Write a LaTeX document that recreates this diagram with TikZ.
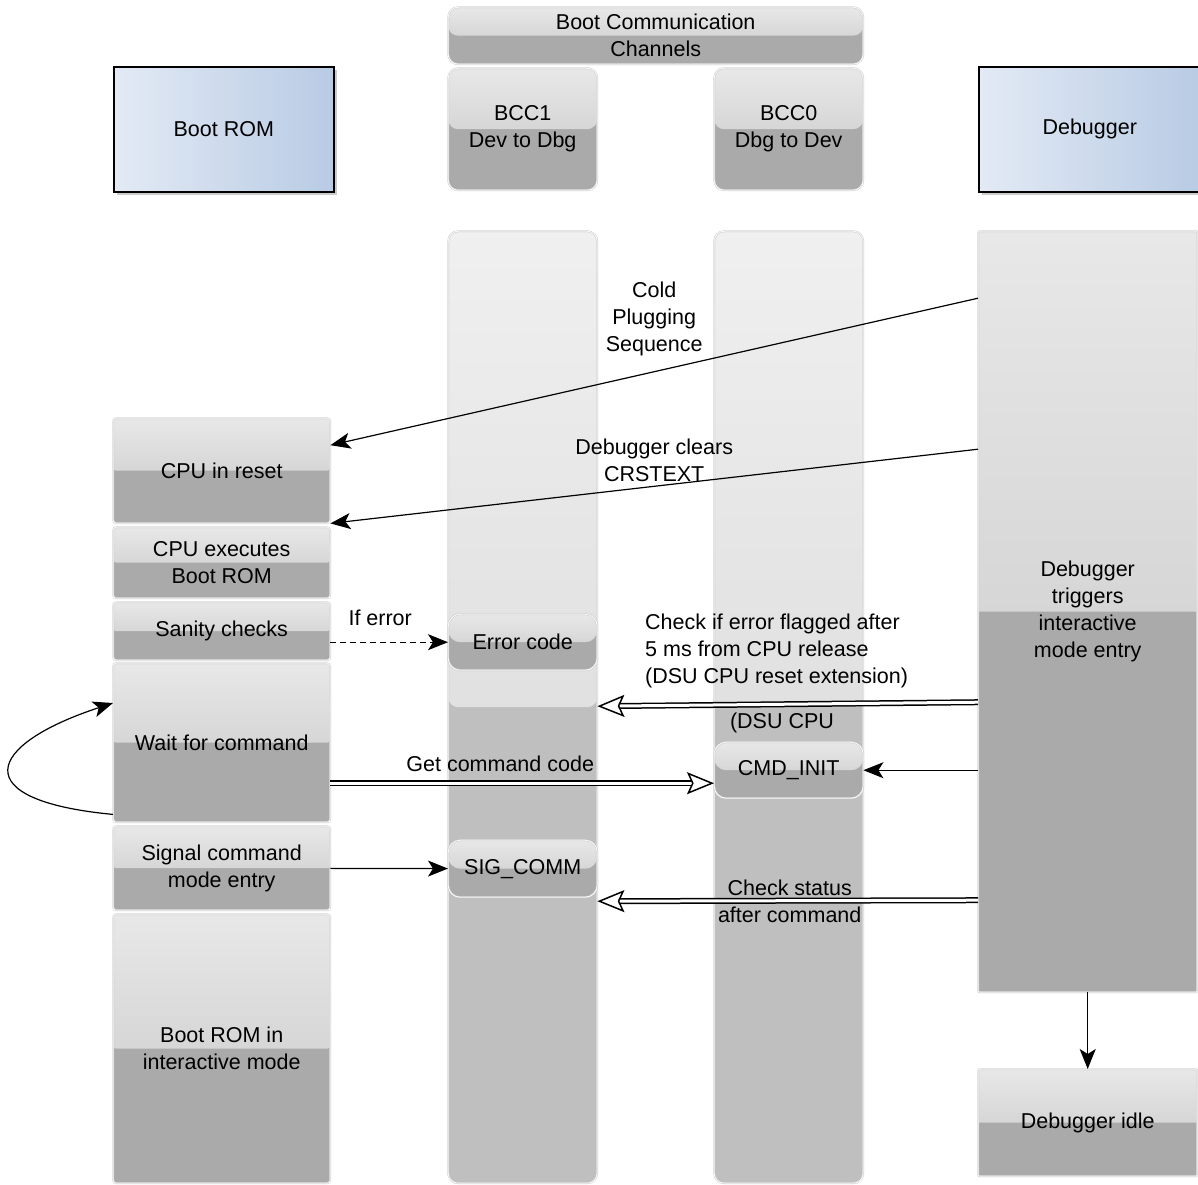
\documentclass[tikz,border=0pt]{standalone}
\usepackage{fontspec}
\setmainfont{Liberation Sans}
\usetikzlibrary{arrows.meta, shadows}
\definecolor{romleft}{HTML}{E3EAF5}
\definecolor{romright}{HTML}{B8CBE4}
\tikzstyle{bluecell} = [rectangle, draw, line width=1.5pt, left color=romleft, right color=romright, text centered, inner sep=0pt, anchor=north west, drop shadow={shadow xshift=3pt, shadow yshift=-3pt, opacity=0.4}]
\tikzstyle{glassbase} = [rectangle, draw=gray!45, double=gray!6, double distance=1pt, align=center, inner sep=0pt, anchor=north west]
\tikzstyle{glasscell} = [glassbase, rounded corners=3pt, fill=gray!67, path picture={\shade[top color=gray!18, bottom color=gray!46] (path picture bounding box.north west) rectangle (path picture bounding box.east);}]
\tikzstyle{chancell} = [glassbase, rounded corners=10pt, fill=gray!50, path picture={\shade[top color=gray!12, bottom color=gray!36] (path picture bounding box.north west) rectangle (path picture bounding box.east);}]
\tikzstyle{lbl} = [align=center, inner sep=0pt]
\tikzstyle{line} = [draw, line width=1.2pt, -{Stealth[length=20pt, width=16pt, inset=5pt]}]
\tikzstyle{dashline} = [line, dashed, dash pattern=on 6pt off 4pt]
\tikzstyle{dline} = [draw, double, double distance=3pt, line width=1.5pt, -{Stealth[open, length=27pt, width=22pt, inset=5pt]}]

\begin{document}
\begin{tikzpicture}[x=1pt, y=-1pt, font=\fontsize{21.5}{27}\selectfont]
    \useasboundingbox (0,0) rectangle (1198,1184);

    % header row
    \node[bluecell, minimum width=220, minimum height=125] (rom) at (113,66) {Boot ROM};
    \node[glasscell, rounded corners=10pt, minimum width=415, minimum height=57] (bcc) at (448,7) {Boot Communication\\Channels};
    \node[glasscell, rounded corners=10pt, minimum width=149, minimum height=122] (bcc1) at (448,68) {BCC1\\Dev to Dbg};
    \node[glasscell, rounded corners=10pt, minimum width=149, minimum height=122] (bcc0) at (714,68) {BCC0\\Dbg to Dev};
    \node[bluecell, minimum width=222, minimum height=125] (dbg) at (978,66) {Debugger};

    % lifelines
    \node[chancell, minimum width=149, minimum height=952] (col1) at (448,231) {};
    \node[chancell, minimum width=149, minimum height=952] (col0) at (714,231) {};
    \node[glasscell, rounded corners=1pt, minimum width=219, minimum height=761] (dbgcol) at (978,231) {Debugger\\triggers\\interactive\\mode entry};
    \node[glasscell, rounded corners=1pt, minimum width=219, minimum height=107] (idle) at (978,1069) {Debugger idle};

    % boot rom steps
    \node[glasscell, minimum width=217, minimum height=105] (rst) at (113,418) {CPU in reset};
    \node[glasscell, minimum width=217, minimum height=71] (exe) at (113,527) {CPU executes\\Boot ROM};
    \node[glasscell, minimum width=217, minimum height=58] (san) at (113,602) {Sanity checks};
    \node[glasscell, minimum width=217, minimum height=159] (wait) at (113,663) {Wait for command};
    \node[glasscell, minimum width=217, minimum height=84] (sig) at (113,826) {Signal command\\mode entry};
    \node[glasscell, minimum width=217, minimum height=269] (inter) at (113,914) {Boot ROM in\\interactive mode};

    % channel codes
    \node[glasscell, rounded corners=12pt, minimum width=149, minimum height=56] (err) at (448,614) {Error code};
    \node[glasscell, rounded corners=12pt, minimum width=149, minimum height=56] (cmd) at (714,742) {CMD\_INIT};
    \node[glasscell, rounded corners=12pt, minimum width=149, minimum height=57] (sigc) at (448,840) {SIG\_COMM};

    % messages
    \path[line] ([yshift=313.5pt]dbgcol.west) -- node[lbl, midway, yshift=53pt] {Cold\\Plugging\\Sequence} ([yshift=25.5pt]rst.east);
    \path[line] ([yshift=162.5pt]dbgcol.west) -- node[lbl, midway, yshift=26pt] {Debugger clears\\CRSTEXT} (rst.south east);
    \path[dashline] (san.east |- err) -- node[lbl, midway, xshift=-9pt, yshift=24pt] {If error} (err);
    \path[dline] ([yshift=-90.5pt]dbgcol.west) -- ([yshift=1pt]col1.east);
    \node[lbl, anchor=west, align=left] (chk) at (645,651) {Check if error flagged after\\5 ms from CPU release\\(DSU CPU reset extension)};
    \node[lbl] (dsu) at (782,723) {(DSU CPU};
    \path[dline] ([yshift=-40.5pt]wait.east) -- node[lbl, midway, xshift=-22pt, yshift=19pt] {Get command code} ([yshift=-13pt]cmd.west);
    \path[line] (dbgcol.west |- cmd.east) -- (cmd.east);
    \path[line] (sig) -- (sigc);
    \path[dline] ([yshift=-288.5pt]dbgcol.west) -- node[lbl, midway, xshift=2pt, yshift=-1pt] {Check status\\after command} ([yshift=-194pt]col1.east);
    \path[line] (dbgcol) -- (idle);
    \draw[line] ([yshift=8pt]wait.south west) .. controls +(-148,-14) and +(-128,42) .. ([yshift=-40pt]wait.north west);
\end{tikzpicture}
\end{document}
